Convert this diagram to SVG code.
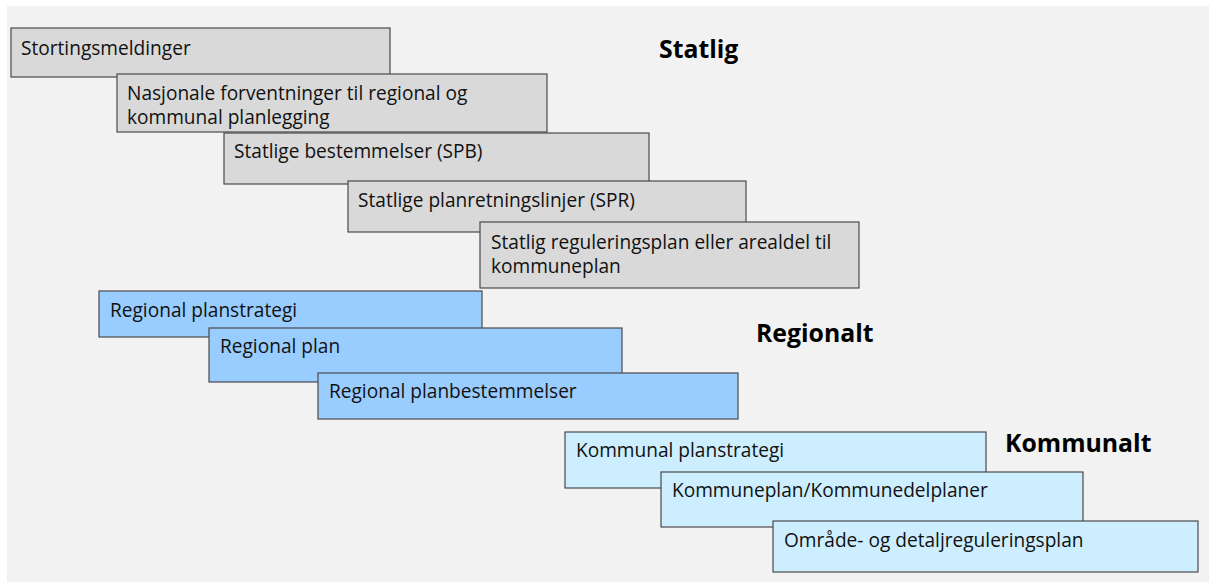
<svg xmlns="http://www.w3.org/2000/svg" width="1209" height="582" viewBox="0 0 1209 582">
<style>
.box{stroke:#4a4a4a;stroke-width:1.2}
.g{fill:#d9d9d9}
.b{fill:#99ccff}
.l{fill:#cdeeff}
.t{font-family:"Open Sans","Noto Sans",sans-serif;font-size:19.1px;fill:#111}
.h{font-family:"Open Sans","Noto Sans",sans-serif;font-size:24.8px;font-weight:bold;fill:#000}
</style>
<rect x="0" y="0" width="1209" height="582" fill="#ffffff"/>
<rect x="7" y="6" width="1202" height="576" fill="#f2f2f2"/>
<g id="labels">
<text class="h" x="659" y="58">Statlig</text>
<text class="h" x="756" y="342">Regionalt</text>
<text class="h" x="1005" y="452">Kommunalt</text>
</g>
<g id="connectors"></g>
<g id="n1"><rect class="box g" x="11" y="28" width="379" height="49"/><text class="t" x="21" y="55">Stortingsmeldinger</text></g>
<g id="n2"><rect class="box g" x="117" y="74" width="430" height="58"/><text class="t" x="127" y="100">Nasjonale forventninger til regional og</text><text class="t" x="127" y="124">kommunal planlegging</text></g>
<g id="n3"><rect class="box g" x="224" y="133" width="425" height="51"/><text class="t" x="234" y="158">Statlige bestemmelser (SPB)</text></g>
<g id="n4"><rect class="box g" x="348" y="181" width="398" height="51"/><text class="t" x="358" y="207">Statlige planretningslinjer (SPR)</text></g>
<g id="n5"><rect class="box g" x="480" y="222" width="379" height="66"/><text class="t" x="491" y="249">Statlig reguleringsplan eller arealdel til</text><text class="t" x="491" y="273">kommuneplan</text></g>
<g id="n6"><rect class="box b" x="99" y="291" width="383" height="46"/><text class="t" x="110" y="317">Regional planstrategi</text></g>
<g id="n7"><rect class="box b" x="209" y="328" width="413" height="54"/><text class="t" x="220" y="353">Regional plan</text></g>
<g id="n8"><rect class="box b" x="318" y="373" width="420" height="46"/><text class="t" x="329" y="398">Regional planbestemmelser</text></g>
<g id="n9"><rect class="box l" x="565" y="432" width="421" height="56"/><text class="t" x="576" y="457">Kommunal planstrategi</text></g>
<g id="n10"><rect class="box l" x="661" y="472" width="422" height="55"/><text class="t" x="672" y="497">Kommuneplan/Kommunedelplaner</text></g>
<g id="n11"><rect class="box l" x="773" y="521" width="425" height="51"/><text class="t" x="784" y="547">Område- og detaljreguleringsplan</text></g>
</svg>
